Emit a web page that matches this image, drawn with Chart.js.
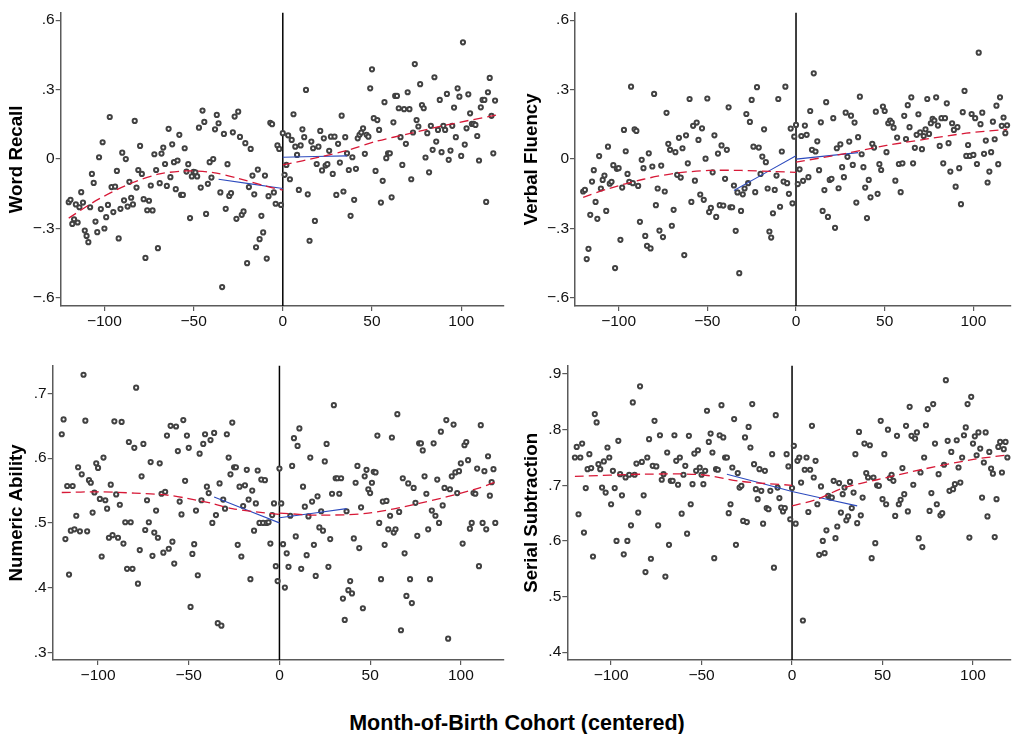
<!DOCTYPE html>
<html>
<head>
<meta charset="utf-8">
<title>Cognitive outcomes by month-of-birth cohort</title>
<script src="https://cdn.jsdelivr.net/npm/chart.js@4.4.1/dist/chart.umd.min.js"></script>
<style>
  body { margin: 0; background: #fff; overflow: hidden; }
  #wrap { position: relative; width: 1017px; height: 734px; overflow: hidden; }
  canvas { position: absolute; }
  #xtitle { position: absolute; left: 0; width: 1034px; top: 711px; text-align: center; white-space: nowrap;
            font: bold 21.5px "Liberation Sans", Arial, sans-serif; color: #000; }
</style>
</head>
<body>
<div id="wrap">
  <canvas id="recallChart" width="510" height="340" style="left:0;top:0"></canvas>
  <canvas id="fluencyChart" width="507" height="340" style="left:510px;top:0"></canvas>
  <canvas id="numericChart" width="510" height="340" style="left:0;top:350px"></canvas>
  <canvas id="serialChart" width="507" height="340" style="left:510px;top:350px"></canvas>
  <div id="xtitle">Month-of-Birth Cohort (centered)</div>
</div>
<script>
// month-of-birth cohort (centered), shared by all four panels
const months = [
  -120,-119,-118,-117,-116,-115,-114,-113,-112,-111,-110,-109,-108,-107,-106,-105,-104,-103,-102,-101,
  -100,-99,-98,-97,-96,-95,-94,-93,-92,-91,-90,-89,-88,-87,-86,-85,-84,-83,-82,-81,
  -80,-79,-78,-77,-76,-75,-74,-73,-72,-71,-70,-69,-68,-67,-66,-65,-64,-63,-62,-61,
  -60,-59,-58,-57,-56,-55,-54,-53,-52,-51,-50,-49,-48,-47,-46,-45,-44,-43,-42,-41,
  -40,-39,-38,-37,-36,-35,-34,-33,-32,-31,-30,-29,-28,-27,-26,-25,-24,-23,-22,-21,
  -20,-19,-18,-17,-16,-15,-14,-13,-12,-11,-10,-9,-8,-7,-6,-5,-4,-3,-2,-1,
  0,1,2,3,4,5,6,7,8,9,10,11,12,13,14,15,16,17,18,19,
  20,21,22,23,24,25,26,27,28,29,30,31,32,33,34,35,36,37,38,39,
  40,41,42,43,44,45,46,47,48,49,50,51,52,53,54,55,56,57,58,59,
  60,61,62,63,64,65,66,67,68,69,70,71,72,73,74,75,76,77,78,79,
  80,81,82,83,84,85,86,87,88,89,90,91,92,93,94,95,96,97,98,99,
  100,101,102,103,104,105,106,107,108,109,110,111,112,113,114,115,116,117,118,119
];

// cohort means, one per month
const wordRecall = [
  -0.187,-0.177,-0.281,-0.261,-0.197,-0.275,-0.209,-0.144,-0.189,-0.31,-0.333,-0.36,-0.209,-0.065,-0.104,-0.271,-0.317,0.007,-0.217,0.072,
  -0.301,-0.252,-0.199,0.181,-0.122,-0.23,-0.12,-0.052,-0.344,-0.216,0.027,-0.179,-0.001,-0.206,-0.099,-0.168,-0.197,0.164,-0.124,-0.048,
  0.056,-0.065,-0.174,-0.428,-0.222,-0.181,-0.115,-0.223,0.02,-0.048,-0.386,-0.105,0.023,0.049,-0.022,-0.117,0.13,-0.079,0.063,-0.014,
  -0.131,-0.007,0.104,-0.156,-0.156,0.046,-0.055,-0.023,-0.256,-0.076,-0.056,-0.058,-0.076,0.135,-0.124,0.209,0.16,-0.238,-0.108,-0.014,
  -0.081,-0.001,0.128,0.19,0.154,-0.145,-0.554,0.108,-0.216,-0.023,-0.16,-0.148,0.115,0.183,-0.259,0.204,0.095,-0.242,-0.227,0.068,
  -0.451,-0.122,0.043,-0.072,-0.153,-0.382,-0.046,-0.347,-0.246,-0.318,-0.072,-0.431,-0.161,0.156,0.15,-0.145,-0.194,0.058,0.043,-0.199,
  0.111,-0.069,-0.026,0.102,-0.088,0.082,0.193,0.053,0.017,-0.134,0.058,0.128,0.094,0.298,-0.153,-0.354,0.075,0.046,-0.268,-0.022,
  0.053,0.121,-0.05,0.089,-0.029,-0.023,0.035,0.096,-0.065,0.096,-0.156,0.065,-0.016,0.187,-0.141,0.094,0.024,-0.048,-0.246,0.007,
  -0.177,-0.043,0.089,0.104,0.114,0.132,0.022,0.104,0.096,0.305,0.387,0.176,-0.052,0.168,0.125,-0.189,-0.095,0.245,0.003,0.024,
  0.024,-0.166,0.158,0.272,0.272,0.219,0.094,-0.026,0.215,0.065,0.288,0.215,-0.088,0.114,0.41,0.168,0.14,0.323,0.233,0.219,
  0.006,0.111,-0.058,0.143,0.039,0.353,0.075,0.125,0.255,0.029,0.143,0.125,0.281,-0.004,0.036,0.143,0.222,0.094,0.305,0.269,
  0.013,0.504,0.062,0.132,0.279,0.197,0.151,0.151,0.147,0.099,-0.007,0.223,0.255,0.255,-0.186,0.288,0.35,0.186,0.024,0.252
];
const verbalFluency = [
  -0.141,-0.134,-0.433,-0.389,-0.242,-0.098,-0.049,-0.186,-0.259,0.012,-0.128,-0.091,-0.072,-0.225,0.053,-0.107,-0.099,-0.027,-0.472,-0.043,
  -0.04,-0.35,-0.124,0.125,0.033,-0.065,-0.099,0.312,-0.105,0.128,0.121,-0.117,-0.272,-0.004,-0.04,-0.333,-0.376,0.024,-0.387,-0.033,
  0.281,-0.2,-0.128,-0.31,-0.029,-0.338,-0.141,0.199,0.065,0.039,-0.289,-0.22,0.029,-0.069,0.091,-0.081,0.046,-0.416,0.102,-0.019,
  0.259,-0.186,0.143,-0.094,0.157,0.082,-0.154,0.132,-0.177,0.001,0.261,-0.23,-0.212,-0.058,0.102,-0.251,0.023,-0.2,0.058,-0.202,
  -0.086,0.039,0.223,-0.209,-0.209,-0.115,-0.311,-0.145,-0.494,-0.225,-0.153,-0.128,0.194,-0.105,0.16,0.255,0.053,-0.144,0.31,0.049,
  -0.065,0.01,0.128,-0.014,-0.128,-0.314,-0.34,-0.235,-0.134,-0.072,0.259,-0.207,0.032,-0.098,0.312,-0.105,-0.151,0.131,-0.192,0.096,
  0.147,-0.109,-0.045,0.099,-0.095,0.144,0.104,-0.079,0.207,0.039,0.37,0.032,0.076,-0.049,0.158,-0.225,-0.135,0.245,-0.251,-0.091,
  -0.086,0.176,-0.298,0.046,-0.127,0.063,-0.036,-0.079,0.2,0.009,0.075,0.187,-0.026,0.157,-0.189,0.094,0.269,0.02,-0.036,-0.124,
  -0.256,-0.091,-0.166,0.065,0.049,0.204,-0.151,-0.023,-0.048,0.226,0.207,0.029,0.154,0.166,0.157,0.135,-0.094,0.092,-0.022,-0.144,
  -0.019,0.186,0.086,0.232,0.137,0.266,-0.019,0.048,0.104,0.193,0.115,0.042,0.099,0.128,0.259,0.108,0.154,0.173,0.166,0.266,
  0.144,0.056,0.176,-0.019,0.176,0.24,0.068,-0.055,0.154,0.125,-0.12,0.137,-0.04,-0.196,0.202,0.294,0.013,0.06,0.013,0.194,
  0.017,0.176,-0.022,0.459,0.15,0.2,0.022,0.079,-0.102,-0.055,0.029,0.161,0.085,0.23,-0.023,0.266,0.143,0.179,0.111,0.145
];
const numericAbility = [
  0.637,0.66,0.475,0.557,0.42,0.488,0.557,0.49,0.511,0.586,0.487,0.575,0.729,0.658,0.487,0.566,0.562,0.516,0.547,0.592,
  0.585,0.537,0.448,0.601,0.535,0.522,0.477,0.559,0.481,0.657,0.544,0.477,0.528,0.656,0.468,0.501,0.429,0.625,0.501,0.429,
  0.616,0.709,0.406,0.458,0.572,0.622,0.489,0.535,0.501,0.594,0.449,0.485,0.519,0.477,0.592,0.545,0.454,0.548,0.635,0.46,
  0.65,0.471,0.437,0.649,0.611,0.533,0.513,0.659,0.565,0.635,0.616,0.37,0.452,0.467,0.519,0.419,0.607,0.535,0.622,0.637,
  0.556,0.546,0.628,0.5,0.639,0.512,0.345,0.561,0.341,0.536,0.522,0.637,0.601,0.575,0.655,0.586,0.586,0.466,0.556,0.448,
  0.526,0.558,0.582,0.536,0.413,0.55,0.488,0.53,0.581,0.5,0.567,0.5,0.566,0.5,0.501,0.468,0.512,0.53,0.433,0.41,
  0.584,0.53,0.467,0.4,0.453,0.432,0.511,0.588,0.631,0.479,0.619,0.646,0.429,0.556,0.525,0.45,0.51,0.601,0.533,0.466,
  0.418,0.541,0.493,0.518,0.488,0.595,0.622,0.432,0.475,0.545,0.682,0.569,0.569,0.545,0.569,0.383,0.35,0.518,0.396,0.41,
  0.391,0.476,0.562,0.588,0.461,0.524,0.368,0.572,0.582,0.552,0.546,0.562,0.579,0.578,0.635,0.5,0.413,0.533,0.466,0.534,
  0.49,0.511,0.632,0.485,0.49,0.668,0.517,0.334,0.569,0.453,0.387,0.561,0.413,0.376,0.554,0.531,0.48,0.623,0.623,0.612,
  0.572,0.545,0.49,0.413,0.519,0.623,0.511,0.567,0.5,0.641,0.527,0.554,0.659,0.321,0.552,0.572,0.652,0.578,0.546,0.58,
  0.592,0.468,0.62,0.625,0.597,0.491,0.5,0.546,0.545,0.584,0.433,0.651,0.5,0.58,0.49,0.603,0.542,0.563,0.583,0.5
];
const serialSubtraction = [
  0.75,0.769,0.648,0.75,0.775,0.615,0.695,0.729,0.756,0.731,0.572,0.828,0.813,0.738,0.729,0.696,0.743,0.687,0.768,0.75,
  0.666,0.726,0.695,0.6,0.78,0.72,0.682,0.576,0.714,0.6,0.719,0.628,0.849,0.719,0.739,0.651,0.878,0.742,0.682,0.544,
  0.75,0.783,0.568,0.735,0.816,0.734,0.628,0.79,0.71,0.72,0.536,0.759,0.593,0.708,0.708,0.79,0.744,0.701,0.75,0.649,
  0.719,0.735,0.613,0.789,0.666,0.702,0.757,0.726,0.763,0.732,0.719,0.702,0.726,0.834,0.778,0.793,0.759,0.569,0.729,0.728,
  0.79,0.844,0.786,0.75,0.75,0.65,0.666,0.732,0.819,0.593,0.722,0.696,0.699,0.636,0.786,0.634,0.805,0.768,0.846,0.738,
  0.693,0.675,0.729,0.69,0.631,0.726,0.659,0.657,0.69,0.756,0.552,0.826,0.696,0.677,0.66,0.653,0.659,0.756,0.734,0.639,
  0.695,0.771,0.631,0.744,0.75,0.705,0.457,0.728,0.75,0.652,0.728,0.807,0.714,0.744,0.666,0.575,0.698,0.6,0.578,0.619,
  0.681,0.678,0.678,0.708,0.605,0.626,0.704,0.651,0.684,0.696,0.637,0.644,0.706,0.659,0.687,0.756,0.632,0.796,0.646,0.678,
  0.775,0.722,0.714,0.772,0.569,0.714,0.596,0.7,0.699,0.816,0.675,0.756,0.666,0.8,0.713,0.719,0.708,0.645,0.789,0.666,
  0.674,0.731,0.684,0.807,0.653,0.841,0.789,0.701,0.784,0.795,0.605,0.723,0.589,0.75,0.808,0.837,0.654,0.686,0.846,0.775,
  0.666,0.72,0.646,0.65,0.737,0.889,0.78,0.69,0.76,0.693,0.702,0.781,0.732,0.705,0.75,0.79,0.804,0.846,0.606,0.859,
  0.775,0.788,0.754,0.795,0.766,0.678,0.741,0.795,0.644,0.76,0.73,0.721,0.607,0.675,0.769,0.778,0.723,0.765,0.778,0.75
];

// quadratic fits (red dashed), left and right of the cutoff
const recallQuadLeftX = [-120, -103, -84, -69, -54, -39, -25, -10, 0];
const recallQuadLeftY = [-0.256, -0.173, -0.102, -0.065, -0.052, -0.059, -0.084, -0.117, -0.135];
const recallQuadRightX = [0, 22, 37, 52, 72, 92, 120];
const recallQuadRightY = [-0.026, 0.01, 0.039, 0.075, 0.111, 0.147, 0.19];
const fluencyQuadLeftX = [-120, -105, -86, -68, -49, -31, -12, 0];
const fluencyQuadLeftY = [-0.166, -0.127, -0.088, -0.062, -0.05, -0.05, -0.055, -0.058];
const fluencyQuadRightX = [0, 27, 51, 73, 96, 119];
const fluencyQuadRightY = [-0.014, 0.022, 0.058, 0.085, 0.111, 0.128];
const numericQuadLeftX = [-120, -99, -80, -62, -51, -37, -26, -13, 0];
const numericQuadLeftY = [0.547, 0.548, 0.546, 0.543, 0.538, 0.53, 0.522, 0.517, 0.513];
const numericQuadRightX = [0, 22, 49, 77, 108, 119];
const numericQuadRightY = [0.515, 0.512, 0.515, 0.53, 0.552, 0.563];
const serialQuadLeftX = [-120, -81, -50, -28, 0];
const serialQuadLeftY = [0.716, 0.72, 0.719, 0.707, 0.7];
const serialQuadRightX = [0, 14, 28, 47, 74, 101, 118];
const serialQuadRightY = [0.663, 0.675, 0.695, 0.71, 0.73, 0.747, 0.754];

// local linear fits (blue) within 36 months of the cutoff
const recallLinLeftX = [-36, 0];
const recallLinLeftY = [-0.088, -0.128];
const recallLinRightX = [0, 36];
const recallLinRightY = [0.007, 0.013];
const fluencyLinLeftX = [-35, 0];
const fluencyLinLeftY = [-0.137, 0.014];
const fluencyLinRightX = [0, 35];
const fluencyLinRightY = [-0.001, 0.027];
const numericLinLeftX = [-36, 0];
const numericLinLeftY = [0.54, 0.5];
const numericLinRightX = [0, 37];
const numericLinRightY = [0.508, 0.522];
const serialLinLeftX = [-36, 0];
const serialLinLeftY = [0.72, 0.689];
const serialLinRightX = [0, 36];
const serialLinRightY = [0.689, 0.663];

// axis ticks
const monthTicks = [-100, -50, 0, 50, 100];
const scoreTicksTop = [-0.6, -0.3, 0, 0.3, 0.6];
const numericTicks = [0.3, 0.4, 0.5, 0.6, 0.7];
const serialTicks = [0.4, 0.5, 0.6, 0.7, 0.8, 0.9];

const FONT = '"Liberation Sans", Arial, sans-serif';
const AXIS_GRAY = '#5a5a5a';

/**
 * Vertical black line at the cutoff (month 0), drawn under the markers.
 */
const cutoffLine = {
  id: 'cutoffLine',
  beforeDatasetsDraw(chart) {
    const {ctx, chartArea, scales} = chart;
    const x = scales.x.getPixelForValue(0);
    ctx.save();
    ctx.strokeStyle = '#000';
    ctx.lineWidth = 1.5;
    ctx.beginPath();
    ctx.moveTo(x, chartArea.top);
    ctx.lineTo(x, chartArea.bottom);
    ctx.stroke();
    ctx.restore();
  }
};

// Stata-style labels: ".3", "−.6", "−100"
function fmtScore(v) {
  if (Math.abs(v) < 1e-9) return '0';
  return (v < 0 ? '\u2212' : '') + Math.abs(v).toFixed(1).replace(/^0/, '');
}
function fmtMonth(v) {
  return v < 0 ? '\u2212' + Math.abs(v) : String(v);
}

function toPoints(xs, ys) {
  return xs.map((x, i) => ({x: x, y: ys[i]}));
}

function fitLine(xs, ys, color, dashed) {
  return {
    type: 'line',
    data: toPoints(xs, ys),
    borderColor: color,
    borderWidth: dashed ? 1.3 : 1.1,
    borderDash: dashed ? [9, 5] : [],
    pointRadius: 0,
    tension: 0.3,
    fill: false,
    order: 1
  };
}

/**
 * Build one panel. p holds the data arrays plus the axis geometry.
 */
function makePanel(p) {
  const ctx = document.getElementById(p.canvas).getContext('2d');
  return new Chart(ctx, {
    type: 'scatter',
    data: {
      datasets: [
        fitLine(p.quadLX, p.quadLY, 'rgb(215,25,55)', true),
        fitLine(p.quadRX, p.quadRY, 'rgb(215,25,55)', true),
        fitLine(p.linLX, p.linLY, 'rgb(45,75,190)', false),
        fitLine(p.linRX, p.linRY, 'rgb(45,75,190)', false),
        {
          data: toPoints(months, p.values),
          pointRadius: 2.1,
          pointBorderWidth: 2,
          borderColor: '#424242',
          backgroundColor: '#ffffff',
          order: 2
        }
      ]
    },
    options: {
      responsive: false,
      animation: false,
      events: [],
      layout: { padding: { left: 0, top: p.padTop, right: p.padRight, bottom: 0 } },
      plugins: { legend: { display: false }, tooltip: { enabled: false } },
      scales: {
        x: {
          type: 'linear',
          min: p.xMin,
          max: p.xMax,
          afterBuildTicks: s => { s.ticks = monthTicks.map(v => ({value: v})); },
          afterFit: s => { s.height = p.xAxisH; },
          ticks: { callback: fmtMonth, font: { family: FONT, size: 15.5 }, color: '#111', padding: 1, maxRotation: 0, autoSkip: false },
          grid: { drawOnChartArea: false, drawTicks: true, tickLength: 5, color: AXIS_GRAY, lineWidth: 1.2 },
          border: { display: true, color: AXIS_GRAY, width: 1.5 }
        },
        y: {
          type: 'linear',
          min: p.yMin,
          max: p.yMax,
          afterBuildTicks: s => { s.ticks = p.yTicks.map(v => ({value: v})); },
          afterFit: s => { s.width = p.yAxisW; },
          ticks: { callback: fmtScore, font: { family: FONT, size: 15.5 }, color: '#111', padding: 1, autoSkip: false },
          grid: { drawOnChartArea: false, drawTicks: true, tickLength: 5, color: AXIS_GRAY, lineWidth: 1.2 },
          border: { display: true, color: AXIS_GRAY, width: 1.5 },
          title: {
            display: true,
            text: p.title,
            color: '#000',
            font: { family: FONT, size: 18.7, weight: 'bold', lineHeight: 1.2 },
            padding: { top: p.titlePad, bottom: 0 }
          }
        }
      }
    },
    plugins: [cutoffLine]
  });
}

document.addEventListener('DOMContentLoaded', function() {
  makePanel({
    canvas: 'recallChart', title: 'Word Recall', values: wordRecall,
    quadLX: recallQuadLeftX, quadLY: recallQuadLeftY, quadRX: recallQuadRightX, quadRY: recallQuadRightY,
    linLX: recallLinLeftX, linLY: recallLinLeftY, linRX: recallLinRightX, linRY: recallLinRightY,
    xMin: -124.5, xMax: 124, yMin: -0.636, yMax: 0.632, yTicks: scoreTicksTop,
    padTop: 12.7, padRight: 4, yAxisW: 60.7, xAxisH: 34, titlePad: 5.8
  });
  makePanel({
    canvas: 'fluencyChart', title: 'Verbal Fluency', values: verbalFluency,
    quadLX: fluencyQuadLeftX, quadLY: fluencyQuadLeftY, quadRX: fluencyQuadRightX, quadRY: fluencyQuadRightY,
    linLX: fluencyLinLeftX, linLY: fluencyLinLeftY, linRX: fluencyLinRightX, linRY: fluencyLinRightY,
    xMin: -124.6, xMax: 121.2, yMin: -0.636, yMax: 0.632, yTicks: scoreTicksTop,
    padTop: 12.7, padRight: 1, yAxisW: 65, xAxisH: 34, titlePad: 10.5
  });
  makePanel({
    canvas: 'numericChart', title: 'Numeric Ability', values: numericAbility,
    quadLX: numericQuadLeftX, quadLY: numericQuadLeftY, quadRX: numericQuadRightX, quadRY: numericQuadRightY,
    linLX: numericLinLeftX, linLY: numericLinLeftY, linRX: numericLinRightX, linRY: numericLinRightY,
    xMin: -125, xMax: 123.8, yMin: 0.288, yMax: 0.743, yTicks: numericTicks,
    padTop: 15.7, padRight: 4, yAxisW: 52.7, xAxisH: 30, titlePad: 5.5
  });
  makePanel({
    canvas: 'serialChart', title: 'Serial Subtraction', values: serialSubtraction,
    quadLX: serialQuadLeftX, quadLY: serialQuadLeftY, quadRX: serialQuadRightX, quadRY: serialQuadRightY,
    linLX: serialLinLeftX, linLY: serialLinLeftY, linRX: serialLinRightX, linRY: serialLinRightY,
    xMin: -124.2, xMax: 121, yMin: 0.386, yMax: 0.915, yTicks: serialTicks,
    padTop: 15.7, padRight: 1, yAxisW: 57.3, xAxisH: 30, titlePad: 10.5
  });
});
</script>
</body>
</html>
